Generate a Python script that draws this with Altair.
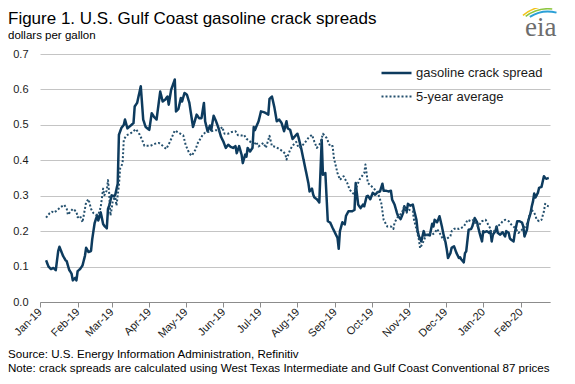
import altair as alt
import pandas as pd

series_names = ["gasoline crack spread", "5-year average"]

spread_dates = [
    "2019-01-06", "2019-01-08", "2019-01-10", "2019-01-12", "2019-01-14", "2019-01-16", "2019-01-17", "2019-01-20",
    "2019-01-22", "2019-01-23", "2019-01-25", "2019-01-27", "2019-01-28", "2019-01-30", "2019-01-31",
    "2019-02-01", "2019-02-03", "2019-02-05", "2019-02-07", "2019-02-08", "2019-02-10", "2019-02-12", "2019-02-13",
    "2019-02-15", "2019-02-17", "2019-02-18", "2019-02-20", "2019-02-22", "2019-02-23", "2019-02-25", "2019-02-26", "2019-02-27",
    "2019-03-01", "2019-03-03", "2019-03-04", "2019-03-06", "2019-03-07", "2019-03-09", "2019-03-11", "2019-03-12",
    "2019-03-14", "2019-03-16", "2019-03-19", "2019-03-20", "2019-03-22", "2019-03-25", "2019-03-27", "2019-03-29",
    "2019-04-01", "2019-04-03", "2019-04-05", "2019-04-07", "2019-04-10", "2019-04-12", "2019-04-14", "2019-04-16",
    "2019-04-17", "2019-04-19", "2019-04-22", "2019-04-23", "2019-04-25", "2019-04-27", "2019-04-28", "2019-04-30",
    "2019-05-02", "2019-05-04", "2019-05-07", "2019-05-08", "2019-05-10", "2019-05-12", "2019-05-14", "2019-05-16",
    "2019-05-17", "2019-05-19", "2019-05-21", "2019-05-22", "2019-05-24", "2019-05-26", "2019-05-28", "2019-05-30",
    "2019-06-01", "2019-06-03", "2019-06-05", "2019-06-07", "2019-06-09", "2019-06-11", "2019-06-12", "2019-06-14",
    "2019-06-16", "2019-06-17", "2019-06-19", "2019-06-20", "2019-06-21", "2019-06-23", "2019-06-25", "2019-06-26",
    "2019-06-27", "2019-06-28", "2019-06-30",
    "2019-07-02", "2019-07-05", "2019-07-08", "2019-07-09", "2019-07-11", "2019-07-13", "2019-07-15", "2019-07-17",
    "2019-07-19", "2019-07-21", "2019-07-23", "2019-07-24", "2019-07-26", "2019-07-28", "2019-07-30",
    "2019-08-01", "2019-08-02", "2019-08-04", "2019-08-06", "2019-08-08", "2019-08-10", "2019-08-11", "2019-08-13",
    "2019-08-14", "2019-08-15", "2019-08-17", "2019-08-19", "2019-08-21", "2019-08-22", "2019-08-24", "2019-08-26",
    "2019-08-28", "2019-08-30",
    "2019-09-01", "2019-09-03", "2019-09-04", "2019-09-05", "2019-09-07", "2019-09-09", "2019-09-10", "2019-09-12",
    "2019-09-15", "2019-09-17", "2019-09-18", "2019-09-20", "2019-09-22", "2019-09-24", "2019-09-25", "2019-09-27",
    "2019-09-28", "2019-09-30",
    "2019-10-02", "2019-10-04", "2019-10-06", "2019-10-08", "2019-10-10", "2019-10-11", "2019-10-13", "2019-10-15",
    "2019-10-17", "2019-10-18", "2019-10-20", "2019-10-22", "2019-10-23", "2019-10-25", "2019-10-27", "2019-10-28",
    "2019-10-30", "2019-10-31",
    "2019-11-02", "2019-11-04", "2019-11-05", "2019-11-07", "2019-11-08", "2019-11-09", "2019-11-11", "2019-11-13",
    "2019-11-14", "2019-11-16", "2019-11-18", "2019-11-20", "2019-11-21", "2019-11-22", "2019-11-24", "2019-11-26",
    "2019-11-28", "2019-11-29",
    "2019-12-01", "2019-12-02", "2019-12-03", "2019-12-05", "2019-12-06", "2019-12-08", "2019-12-10", "2019-12-12",
    "2019-12-13", "2019-12-14", "2019-12-16", "2019-12-17", "2019-12-18", "2019-12-20", "2019-12-22", "2019-12-23",
    "2019-12-25", "2019-12-27", "2019-12-28", "2019-12-29", "2019-12-31",
    "2020-01-01", "2020-01-02", "2020-01-04", "2020-01-06", "2020-01-07", "2020-01-08", "2020-01-09", "2020-01-11",
    "2020-01-12", "2020-01-13", "2020-01-15", "2020-01-17", "2020-01-19", "2020-01-20", "2020-01-22", "2020-01-23",
    "2020-01-24", "2020-01-26", "2020-01-27", "2020-01-29", "2020-01-31",
    "2020-02-02", "2020-02-03", "2020-02-04", "2020-02-06", "2020-02-07", "2020-02-09", "2020-02-10", "2020-02-11",
    "2020-02-12", "2020-02-13", "2020-02-15", "2020-02-16", "2020-02-18", "2020-02-20", "2020-02-21", "2020-02-22",
    "2020-02-24",
]

spread_values = [
    0.118, 0.100, 0.093, 0.096, 0.090, 0.144, 0.156, 0.130, 0.118, 0.115, 0.091, 0.080, 0.061, 0.068, 0.061,
    0.087, 0.093, 0.103, 0.130, 0.153, 0.141, 0.144, 0.177, 0.223, 0.244, 0.230, 0.253, 0.220, 0.215, 0.208, 0.263, 0.272,
    0.301, 0.298, 0.303, 0.334, 0.472, 0.491, 0.500, 0.515, 0.490, 0.496, 0.505, 0.552, 0.562, 0.609, 0.515, 0.494,
    0.486, 0.533, 0.522, 0.515, 0.594, 0.566, 0.571, 0.580, 0.557, 0.599, 0.628, 0.538, 0.545, 0.576, 0.566, 0.590,
    0.585, 0.562, 0.494, 0.505, 0.529, 0.519, 0.519, 0.562, 0.510, 0.482, 0.498, 0.485, 0.526, 0.510, 0.491, 0.467,
    0.453, 0.435, 0.444, 0.438, 0.435, 0.440, 0.420, 0.440, 0.416, 0.392, 0.416, 0.410, 0.435, 0.425, 0.435, 0.494,
    0.485, 0.494, 0.510,
    0.538, 0.535, 0.529, 0.573, 0.580, 0.550, 0.510, 0.515, 0.505, 0.482, 0.510, 0.490, 0.486, 0.460, 0.468,
    0.475, 0.463, 0.435, 0.402, 0.369, 0.336, 0.312, 0.320, 0.303, 0.295, 0.290, 0.281, 0.458, 0.359, 0.364, 0.228,
    0.224, 0.209,
    0.195, 0.181, 0.150, 0.200, 0.225, 0.219, 0.243, 0.256, 0.256, 0.260, 0.336, 0.275, 0.265, 0.275, 0.270, 0.298,
    0.300, 0.290,
    0.308, 0.303, 0.310, 0.312, 0.334, 0.314, 0.314, 0.312, 0.314, 0.289, 0.275, 0.251, 0.242, 0.234, 0.251, 0.270,
    0.256, 0.277,
    0.272, 0.275, 0.260, 0.232, 0.200, 0.186, 0.171, 0.200, 0.188, 0.190, 0.188, 0.221, 0.213, 0.232, 0.225, 0.242,
    0.213, 0.195,
    0.168, 0.148, 0.124, 0.138, 0.153, 0.157, 0.138, 0.124, 0.126, 0.120, 0.112, 0.138, 0.143, 0.204, 0.206, 0.213,
    0.237, 0.225, 0.209, 0.195, 0.171,
    0.200, 0.197, 0.200, 0.195, 0.200, 0.171, 0.190, 0.200, 0.213, 0.195, 0.190, 0.197, 0.185, 0.200, 0.195, 0.179,
    0.176, 0.171, 0.195, 0.228, 0.228,
    0.224, 0.213, 0.185, 0.204, 0.228, 0.251, 0.270, 0.284, 0.306, 0.295, 0.308, 0.322, 0.325, 0.355, 0.350, 0.348,
    0.350,
]

avg_dates = [
    "2019-01-06", "2019-01-09", "2019-01-11", "2019-01-12", "2019-01-15", "2019-01-17", "2019-01-19", "2019-01-21",
    "2019-01-23", "2019-01-24", "2019-01-26", "2019-01-28", "2019-01-31",
    "2019-02-01", "2019-02-03", "2019-02-05", "2019-02-07", "2019-02-08", "2019-02-10", "2019-02-12", "2019-02-14",
    "2019-02-16", "2019-02-18", "2019-02-20", "2019-02-22", "2019-02-23", "2019-02-25", "2019-02-26", "2019-02-27",
    "2019-02-28",
    "2019-03-01", "2019-03-02", "2019-03-04", "2019-03-05", "2019-03-07", "2019-03-08", "2019-03-10", "2019-03-11",
    "2019-03-13", "2019-03-17", "2019-03-21", "2019-03-24", "2019-03-26", "2019-03-28",
    "2019-04-02", "2019-04-06", "2019-04-09", "2019-04-12", "2019-04-15", "2019-04-18", "2019-04-22", "2019-04-25",
    "2019-04-29",
    "2019-05-01", "2019-05-04", "2019-05-06", "2019-05-09", "2019-05-11", "2019-05-15", "2019-05-17", "2019-05-22",
    "2019-05-26", "2019-05-28", "2019-05-31",
    "2019-06-02", "2019-06-05", "2019-06-08", "2019-06-11", "2019-06-13", "2019-06-16", "2019-06-18", "2019-06-20",
    "2019-06-24", "2019-06-26", "2019-06-28", "2019-06-30",
    "2019-07-04", "2019-07-06", "2019-07-09", "2019-07-11", "2019-07-14", "2019-07-17", "2019-07-20", "2019-07-22",
    "2019-07-23", "2019-07-26", "2019-07-28", "2019-07-31",
    "2019-08-02", "2019-08-04", "2019-08-07", "2019-08-10", "2019-08-13", "2019-08-15", "2019-08-17", "2019-08-20",
    "2019-08-22", "2019-08-25", "2019-08-28", "2019-08-30", "2019-08-31",
    "2019-09-03", "2019-09-05", "2019-09-08", "2019-09-11", "2019-09-13", "2019-09-16", "2019-09-19", "2019-09-21",
    "2019-09-25", "2019-09-26", "2019-09-28", "2019-09-30",
    "2019-10-03", "2019-10-06", "2019-10-09", "2019-10-11", "2019-10-14", "2019-10-17", "2019-10-19", "2019-10-20",
    "2019-10-23", "2019-10-26", "2019-10-28", "2019-10-30",
    "2019-11-01", "2019-11-04", "2019-11-05", "2019-11-07", "2019-11-09", "2019-11-10", "2019-11-12", "2019-11-14",
    "2019-11-17", "2019-11-20", "2019-11-22", "2019-11-24", "2019-11-27", "2019-11-29",
    "2019-12-01", "2019-12-03", "2019-12-05", "2019-12-06", "2019-12-08", "2019-12-10", "2019-12-12", "2019-12-14",
    "2019-12-16", "2019-12-18", "2019-12-19", "2019-12-22", "2019-12-24", "2019-12-26", "2019-12-28", "2019-12-30",
    "2019-12-31",
    "2020-01-03", "2020-01-05", "2020-01-07", "2020-01-08", "2020-01-10", "2020-01-12", "2020-01-15", "2020-01-17",
    "2020-01-19", "2020-01-22", "2020-01-24", "2020-01-26", "2020-01-28", "2020-01-30",
    "2020-02-01", "2020-02-03", "2020-02-05", "2020-02-07", "2020-02-08", "2020-02-10", "2020-02-12", "2020-02-13",
    "2020-02-14", "2020-02-16", "2020-02-18", "2020-02-20", "2020-02-21", "2020-02-22", "2020-02-24",
]

avg_values = [
    0.238, 0.251, 0.255, 0.252, 0.258, 0.265, 0.270, 0.274, 0.263, 0.246, 0.255, 0.263, 0.255,
    0.239, 0.243, 0.225, 0.263, 0.282, 0.290, 0.263, 0.251, 0.246, 0.246, 0.268, 0.320, 0.301, 0.315, 0.344, 0.306,
    0.244,
    0.263, 0.287, 0.296, 0.272, 0.330, 0.377, 0.391, 0.458, 0.470, 0.477, 0.488, 0.473, 0.458, 0.441,
    0.441, 0.447, 0.449, 0.441, 0.432, 0.452, 0.484, 0.478, 0.470,
    0.443, 0.419, 0.413, 0.430, 0.449, 0.472, 0.478, 0.482, 0.485, 0.480, 0.494,
    0.475, 0.475, 0.480, 0.482, 0.471, 0.470, 0.472, 0.461, 0.450, 0.441, 0.452, 0.439,
    0.449, 0.435, 0.469, 0.440, 0.438, 0.432, 0.425, 0.418, 0.402, 0.430, 0.441, 0.452,
    0.435, 0.438, 0.449, 0.463, 0.472, 0.452, 0.435, 0.449, 0.475, 0.463, 0.439, 0.440, 0.407,
    0.364, 0.345, 0.355, 0.336, 0.317, 0.306, 0.327, 0.345, 0.364, 0.388, 0.336, 0.330,
    0.320, 0.310, 0.280, 0.232, 0.213, 0.213, 0.206, 0.224, 0.242, 0.251, 0.270, 0.252,
    0.260, 0.256, 0.232, 0.206, 0.177, 0.152, 0.165, 0.181, 0.195, 0.190, 0.195, 0.206, 0.190, 0.176,
    0.176, 0.181, 0.186, 0.200, 0.206, 0.209, 0.206, 0.209, 0.213, 0.224, 0.232, 0.228, 0.232, 0.219, 0.213, 0.224,
    0.228,
    0.232, 0.219, 0.206, 0.190, 0.200, 0.213, 0.219, 0.228, 0.232, 0.228, 0.219, 0.213, 0.206, 0.195,
    0.200, 0.209, 0.213, 0.228, 0.245, 0.260, 0.251, 0.245, 0.232, 0.228, 0.232, 0.256, 0.277, 0.272, 0.270,
]

month_ticks = [(2019, m) for m in range(1, 13)] + [(2020, 1), (2020, 2)]
y_ticks = [0.0, 0.1, 0.2, 0.3, 0.4, 0.5, 0.6, 0.7]

title_text = "Figure 1. U.S. Gulf Coast gasoline crack spreads"
subtitle_text = "dollars per gallon"
source_text = "Source: U.S. Energy Information Administration, Refinitiv"
note_text = "Note: crack spreads are calculated using West Texas Intermediate and Gulf Coast Conventional 87 prices"
logo_text = "eia"

assert len(spread_dates) == len(spread_values)
assert len(avg_dates) == len(avg_values)

df = pd.concat([
    pd.DataFrame({"date": spread_dates, "value": spread_values, "series": series_names[0]}),
    pd.DataFrame({"date": avg_dates, "value": avg_values, "series": series_names[1]}),
], ignore_index=True)

FONT = "Liberation Sans"
legend_cfg = alt.Legend(
    title=None, orient="none", legendX=355, legendY=10, padding=0,
    symbolType="M-3,0L1,0", symbolSize=225, symbolStrokeWidth=2.5,
    labelFontSize=13, labelFont=FONT, labelColor="#1a1a1a", labelOffset=3,
    rowPadding=8,
)

x_enc = alt.X(
    "date:T",
    scale=alt.Scale(type="utc", domain=[alt.DateTime(year=2019, month=1, date=1, utc=True),
                                        alt.DateTime(year=2020, month=2, date=25, utc=True)]),
    axis=alt.Axis(
        values=[alt.DateTime(year=y, month=m, date=1, utc=True) for y, m in month_ticks],
        labelExpr="utcFormat(datum.value, '%b-%y')",
        labelAngle=315, labelAlign="right", labelBaseline="middle",
        labelFontSize=11, labelFont=FONT, labelColor="#1a1a1a", labelPadding=3,
        grid=False, domainColor="#8c8c8c", tickColor="#8c8c8c", tickSize=5, labelOverlap=False,
    ),
    title=None,
)
y_enc = alt.Y(
    "value:Q",
    scale=alt.Scale(domain=[0, 0.7], nice=False, zero=True),
    axis=alt.Axis(values=y_ticks, format=".1f", grid=True, gridColor="#c4c4c4", gridWidth=1,
                  domain=False, ticks=False, labelPadding=12, labelFontSize=11, labelFont=FONT,
                  labelColor="#1a1a1a"),
    title=None,
)

lines = alt.Chart(df).mark_line(strokeJoin="round").encode(
    x=x_enc,
    y=y_enc,
    color=alt.Color("series:N", scale=alt.Scale(domain=series_names, range=["#0d3b5e", "#24506e"]),
                    legend=legend_cfg),
    strokeDash=alt.StrokeDash("series:N", scale=alt.Scale(domain=series_names, range=[[1, 0], [2, 2]]),
                              legend=legend_cfg),
    strokeWidth=alt.StrokeWidth("series:N", scale=alt.Scale(domain=series_names, range=[2.5, 2.0]),
                                legend=None),
    order=alt.Order("date:T"),
)


def text_layer(txt, x, y, size, color="#000000", font=FONT, align="left"):
    return alt.Chart(pd.DataFrame({"t": [txt]})).mark_text(
        align=align, baseline="alphabetic", fontSize=size, font=font, color=color
    ).encode(text="t:N", x=alt.value(x), y=alt.value(y))


def swoosh(r_in, r_out, t0, t1, color):
    return alt.Chart(pd.DataFrame({"k": [0]})).mark_arc(color=color).encode(
        x=alt.value(508), y=alt.value(-9),
        radius=alt.value(r_out), radius2=alt.value(r_in),
        theta=alt.value(t0), theta2=alt.value(t1),
    )


texts = [
    text_layer(title_text, -32, -30, 17),
    text_layer(subtitle_text, -32, -15, 11.5),
    text_layer(source_text, -32, 304, 11.6),
    text_layer(note_text, -32, 318, 11.6),
    text_layer(logo_text, 485, -18, 27, color="#6d6d6d", font="Liberation Serif"),
]

logo_arcs = [
    swoosh(32.5, 34.5, 5.71, 6.54, "#2a9fd6"),
    swoosh(35.5, 37.0, 5.62, 6.40, "#8dc63f"),
    swoosh(38.0, 39.5, 5.58, 6.15, "#f2c31b"),
]

chart = alt.layer(lines, *texts, *logo_arcs).properties(
    width=510, height=248,
    padding={"left": 32, "top": 46, "right": 17, "bottom": 74},
    autosize=alt.AutoSizeParams(type="none"),
).configure_view(stroke=None)

chart.save("out.html", embed_options={"renderer": "svg", "actions": False})
